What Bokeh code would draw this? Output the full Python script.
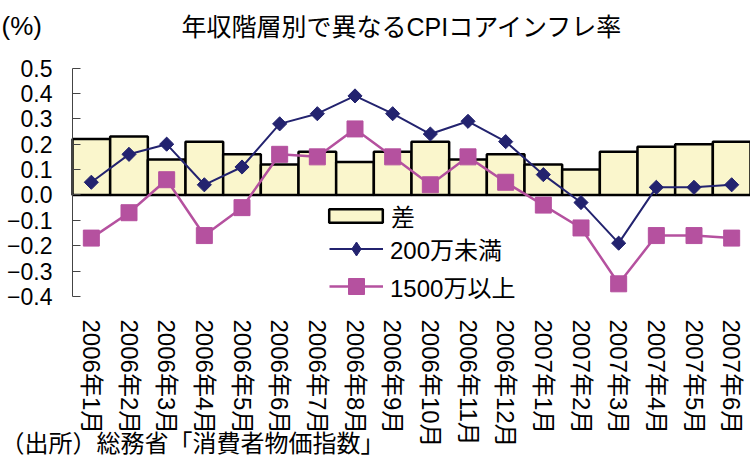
import numpy as np
from bokeh.plotting import figure
from bokeh.models import (ColumnDataSource, Range1d, FixedTicker, Label, Legend, LegendItem)
from bokeh.embed import file_html
from bokeh.resources import INLINE

# ---- data ----
months = ["2006年1月", "2006年2月", "2006年3月", "2006年4月", "2006年5月", "2006年6月",
          "2006年7月", "2006年8月", "2006年9月", "2006年10月", "2006年11月", "2006年12月",
          "2007年1月", "2007年2月", "2007年3月", "2007年4月", "2007年5月", "2007年6月"]
diff = [0.22, 0.23, 0.14, 0.21, 0.16, 0.12, 0.17, 0.13, 0.17, 0.21, 0.14, 0.16,
        0.12, 0.10, 0.17, 0.19, 0.20, 0.21]
under200 = [0.05, 0.16, 0.20, 0.04, 0.11, 0.28, 0.32, 0.39, 0.32, 0.24, 0.29, 0.21,
            0.08, -0.03, -0.19, 0.03, 0.03, 0.04]
over1500 = [-0.17, -0.07, 0.06, -0.16, -0.05, 0.16, 0.15, 0.26, 0.15, 0.04, 0.15, 0.05,
            -0.04, -0.13, -0.35, -0.16, -0.16, -0.17]
series_names = ["差", "200万未満", "1500万以上"]
yticks = [-0.4, -0.3, -0.2, -0.1, 0.0, 0.1, 0.2, 0.3, 0.4, 0.5]
ytick_labels = ["−0.4", "−0.3", "−0.2", "−0.1", "0.0", "0.1", "0.2", "0.3", "0.4", "0.5"]
title_text = "年収階層別で異なるCPIコアインフレ率"
unit_text = "(%)"
source_text = "（出所）総務省「消費者物価指数」"

# ---- styling / layout ----
BAR_FILL = "#FAF6CC"
NAVY = "#23236F"
MAGENTA = "#B5519F"
LATIN_CJK = "Liberation Sans, Noto Sans CJK JP"

W, H = 750, 459
AXIS_X = 72                 # px of value axis from left of canvas
TOP_PX, BOT_PX = 67.5, 296  # px where 0.5 and -0.4 sit
ymin_v, ymax_v = yticks[0], yticks[-1]
px_per_unit = (BOT_PX - TOP_PX) / (ymax_v - ymin_v)
y_lo = ymin_v - (H - BOT_PX) / px_per_unit
y_hi = ymax_v + TOP_PX / px_per_unit
n = len(months)
cat_w = (W - AXIS_X) / n
x_lo = -0.5 - AXIS_X / cat_w
x_hi = n - 0.5

pos = list(range(n))
src = ColumnDataSource(dict(x=pos, diff=diff, low=under200, high=over1500))

p = figure(width=W, height=H,
           x_range=Range1d(x_lo, x_hi), y_range=Range1d(y_lo, y_hi),
           output_backend="svg", toolbar_location=None,
           min_border_left=0, min_border_right=0, min_border_top=0, min_border_bottom=0)
p.outline_line_color = None
p.xgrid.grid_line_color = None
p.ygrid.grid_line_color = None
p.background_fill_color = "white"
p.border_fill_color = "white"

bars = p.vbar(x="x", top="diff", bottom=0, width=1.0, source=src, fill_color=BAR_FILL,
              line_color="black", line_width=2.5)
l1 = p.line(x="x", y="low", source=src, line_color=NAVY, line_width=2)
s1 = p.scatter(x="x", y="low", source=src, marker="square", angle=np.pi / 4,
               size=10, fill_color=NAVY, line_color=NAVY)
l2 = p.line(x="x", y="high", source=src, line_color=MAGENTA, line_width=2.5)
s2 = p.scatter(x="x", y="high", source=src, marker="square", size=16,
               fill_color=MAGENTA, line_color=MAGENTA)
# hidden renderer used only as the diamond swatch of the legend
s1_key = p.scatter(x="x", y="low", source=src, marker="diamond",
                   fill_color=NAVY, line_color=NAVY, visible=False)

# y axis (drawn at left edge of first category)
yax = p.yaxis[0]
yax.fixed_location = -0.5
yax.bounds = (ymin_v, ymax_v)
yax.ticker = FixedTicker(ticks=yticks)
yax.major_label_overrides = dict(zip(yticks, ytick_labels))
yax.major_tick_in = 8
yax.major_tick_out = 0
yax.minor_tick_line_color = None
yax.axis_line_color = "#444444"
yax.axis_line_width = 1
yax.major_tick_line_color = "#444444"
yax.major_label_text_font_size = "23px"
yax.major_label_text_font = "Liberation Sans"
yax.major_label_text_color = "black"
yax.major_label_standoff = 20

# x axis (category labels below -0.4)
xax = p.xaxis[0]
xax.fixed_location = ymin_v
xax.ticker = FixedTicker(ticks=pos)
xax.major_label_overrides = dict(zip(pos, months))
xax.major_label_orientation = "vertical"
xax.axis_line_color = None
xax.major_tick_line_color = None
xax.minor_tick_line_color = None
xax.major_label_standoff = 17
xax.major_label_text_font_size = "24px"
xax.major_label_text_font = LATIN_CJK
xax.major_label_text_color = "black"

# legends (one per entry so each glyph gets its own size)
common = dict(orientation="vertical", border_line_color=None, background_fill_alpha=0,
              padding=0, margin=0, spacing=0, label_height=40,
              inactive_fill_alpha=0,
              label_text_font_size="24px", label_text_font=LATIN_CJK,
              label_text_color="black", label_text_baseline="middle")
leg1 = Legend(items=[LegendItem(label=series_names[0], renderers=[bars])],
              location=(322, 224), glyph_width=67, glyph_height=17, label_standoff=2, **common)
leg2 = Legend(items=[LegendItem(label=series_names[1], renderers=[l1, s1_key])],
              location=(329, 191), glyph_width=54, glyph_height=35, label_standoff=7, **common)
leg3 = Legend(items=[LegendItem(label=series_names[2], renderers=[l2, s2])],
              location=(329, 153), glyph_width=54, glyph_height=40, label_standoff=7, **common)
for lg in (leg1, leg2, leg3):
    p.add_layout(lg)

p.add_layout(Label(x=181, y=H - 26, x_units="screen", y_units="screen", text=title_text,
                   text_font=LATIN_CJK, text_font_size="25px",
                   text_baseline="middle", text_color="black"))
p.add_layout(Label(x=1, y=H - 25, x_units="screen", y_units="screen", text=unit_text,
                   text_font=LATIN_CJK, text_font_size="26px",
                   text_baseline="middle", text_color="black"))
p.add_layout(Label(x=0, y=H - 441, x_units="screen", y_units="screen", text=source_text,
                   text_font="Noto Sans CJK JP", text_font_size="24px",
                   text_baseline="middle", text_color="black"))

open("out.html", "w").write(file_html(p, INLINE))
